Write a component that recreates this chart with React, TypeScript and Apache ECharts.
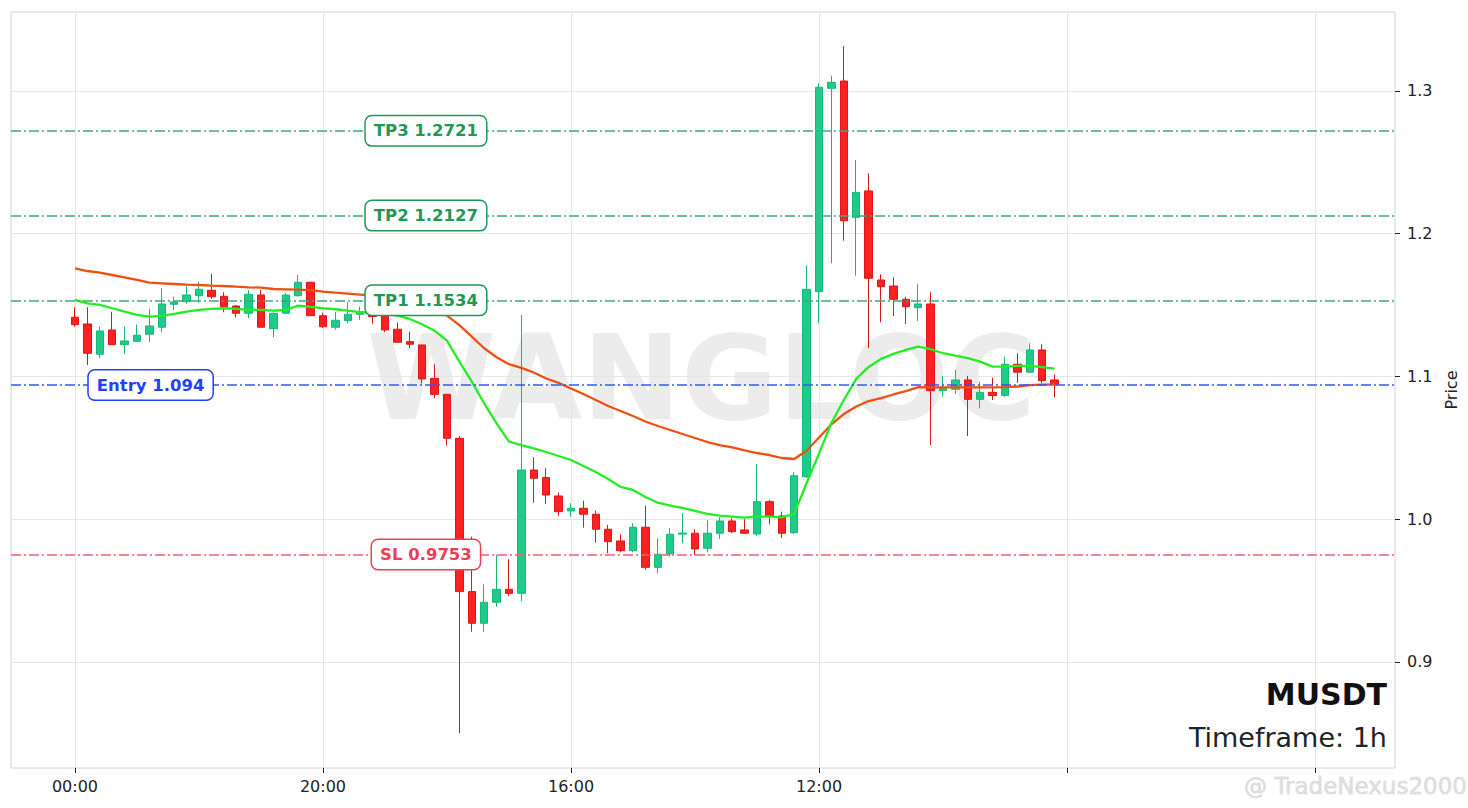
import React, { useEffect, useRef } from 'react';
import * as echarts from 'echarts';

// ---- data ----
const OPEN = [
  1.1415, 1.1368, 1.1156, 1.1326, 1.1223, 1.1247, 1.1296, 1.1345, 1.1506, 1.1524,
  1.1566, 1.1604, 1.1562, 1.1494, 1.1443, 1.1571, 1.1335, 1.1443, 1.1566, 1.1660,
  1.1426, 1.1345, 1.1391, 1.1436, 1.1480, 1.1426, 1.1331, 1.1244, 1.1221, 1.0987,
  1.0875, 1.0567, 0.9493, 0.9271, 0.9418, 0.9509, 0.9481, 1.0345, 1.0292, 1.0163,
  1.0058, 1.0077, 1.0035, 0.9930, 0.9848, 0.9780, 0.9944, 0.9663, 0.9757, 0.9896,
  0.9902, 0.9797, 0.9902, 0.9988, 0.9925, 0.9897, 1.0123, 1.0023, 0.9906, 1.0298,
  1.1594, 1.3019, 1.3070, 1.2115, 1.2300, 1.1676, 1.1634, 1.1541, 1.1482, 1.1508,
  1.0901, 1.0910, 1.0976, 1.0840, 1.0889, 1.0866, 1.1086, 1.1030, 1.1186, 1.0976,
];
const CLOSE = [
  1.1363, 1.1163, 1.1319, 1.1223, 1.1249, 1.1289, 1.1354, 1.1508, 1.1522, 1.1571,
  1.1611, 1.1559, 1.1489, 1.1443, 1.1576, 1.1345, 1.1443, 1.1571, 1.1660, 1.1426,
  1.1349, 1.1394, 1.1436, 1.1454, 1.1420, 1.1326, 1.1240, 1.1226, 1.0983, 1.0875,
  1.0567, 0.9493, 0.9271, 0.9418, 0.9509, 0.9481, 1.0345, 1.0287, 1.0170, 1.0053,
  1.0077, 1.0035, 0.9930, 0.9843, 0.9780, 0.9944, 0.9663, 0.9755, 0.9895, 0.9903,
  0.9792, 0.9902, 0.9988, 0.9913, 0.9902, 1.0123, 1.0025, 0.9902, 1.0305, 1.1611,
  1.3026, 1.3061, 1.2091, 1.2290, 1.1688, 1.1629, 1.1541, 1.1489, 1.1508, 1.0901,
  1.0917, 1.0976, 1.0840, 1.0889, 1.0866, 1.1086, 1.1030, 1.1186, 1.0971, 1.0945,
];
const LOW = [
  1.1349, 1.1081, 1.1128, 1.1222, 1.1158, 1.1242, 1.1242, 1.1310, 1.1466, 1.1508,
  1.1517, 1.1543, 1.1450, 1.1415, 1.1408, 1.1345, 1.1275, 1.1443, 1.1559, 1.1426,
  1.1338, 1.1328, 1.1373, 1.1396, 1.1370, 1.1310, 1.1240, 1.1198, 1.0952, 1.0847,
  1.0515, 0.8501, 0.9212, 0.9212, 0.9387, 0.9462, 0.9427, 1.0116, 1.0107, 1.0025,
  1.0018, 0.9941, 0.9836, 0.9762, 0.9769, 0.9769, 0.9645, 0.9621, 0.9738, 0.9832,
  0.9750, 0.9769, 0.9862, 0.9902, 0.9897, 0.9883, 0.9965, 0.9867, 0.9895, 1.0290,
  1.1373, 1.1793, 1.1951, 1.1706, 1.1200, 1.1380, 1.1424, 1.1368, 1.1389, 1.0520,
  1.0859, 1.0877, 1.0583, 1.0777, 1.0835, 1.0859, 1.0957, 1.1023, 1.0952, 1.0854,
];
const HIGH = [
  1.1485, 1.1485, 1.1349, 1.1454, 1.1349, 1.1363, 1.1475, 1.1618, 1.1559, 1.1634,
  1.1664, 1.1718, 1.1590, 1.1501, 1.1606, 1.1606, 1.1447, 1.1583, 1.1711, 1.1664,
  1.1447, 1.1454, 1.1520, 1.1489, 1.1520, 1.1454, 1.1377, 1.1314, 1.1221, 1.1086,
  1.0875, 1.0583, 0.9878, 0.9544, 0.9750, 0.9720, 1.1431, 1.0434, 1.0357, 1.0186,
  1.0112, 1.0130, 1.0060, 0.9960, 0.9895, 0.9972, 1.0095, 0.9867, 0.9937, 1.0042,
  0.9930, 0.9995, 1.0014, 1.0007, 1.0000, 1.0385, 1.0135, 1.0053, 1.0329, 1.1779,
  1.3054, 1.3107, 1.3315, 1.2517, 1.2423, 1.1716, 1.1695, 1.1559, 1.1646, 1.1590,
  1.1004, 1.1046, 1.1004, 1.0964, 1.0992, 1.1139, 1.1163, 1.1233, 1.1226, 1.1015,
];
const EMA_FAST = [
  1.1536, 1.1513, 1.1501, 1.1478, 1.1454, 1.1431, 1.1419, 1.1424, 1.1438, 1.1454,
  1.1466, 1.1473, 1.1478, 1.1473, 1.1466, 1.1466, 1.1461, 1.1466, 1.1496, 1.1487,
  1.1478, 1.1471, 1.1461, 1.1450, 1.1448, 1.1438, 1.1426, 1.1403, 1.1366, 1.1321,
  1.1251, 1.1104, 1.0964, 1.0812, 1.0672, 1.0543, 1.0520, 1.0497, 1.0471, 1.0443,
  1.0415, 1.0373, 1.0331, 1.0282, 1.0226, 1.0205, 1.0156, 1.0116, 1.0096, 1.0079,
  1.0058, 1.0037, 1.0026, 1.0019, 1.0011, 1.0018, 1.0018, 1.0013, 1.0037, 1.0254,
  1.0460, 1.0674, 1.0835, 1.0983, 1.1067, 1.1123, 1.1158, 1.1186, 1.1209, 1.1191,
  1.1163, 1.1146, 1.1128, 1.1104, 1.1069, 1.1069, 1.1074, 1.1074, 1.1065, 1.1055,
];
const EMA_SLOW = [
  1.1758, 1.1739, 1.1727, 1.1711, 1.1695, 1.1676, 1.1657, 1.1653, 1.1648, 1.1643,
  1.1641, 1.1636, 1.1634, 1.1629, 1.1625, 1.1622, 1.1613, 1.1611, 1.1608, 1.1606,
  1.1594, 1.1587, 1.1581, 1.1574, 1.1566, 1.1560, 1.1550, 1.1536, 1.1515, 1.1473,
  1.1427, 1.1360, 1.1279, 1.1198, 1.1135, 1.1086, 1.1060, 1.1028, 1.0986, 1.0955,
  1.0916, 1.0877, 1.0835, 1.0793, 1.0758, 1.0723, 1.0685, 1.0653, 1.0625, 1.0597,
  1.0569, 1.0541, 1.0520, 1.0503, 1.0482, 1.0464, 1.0450, 1.0429, 1.0422, 1.0480,
  1.0573, 1.0664, 1.0737, 1.0790, 1.0828, 1.0849, 1.0874, 1.0898, 1.0926, 1.0924,
  1.0924, 1.0924, 1.0924, 1.0924, 1.0924, 1.0926, 1.0930, 1.0940, 1.0943, 1.0945,
];
const LEVEL_VALUES = [1.2721, 1.2127, 1.1534, 1.094, 0.9753];
const LEVEL_TEXTS = ['TP3 1.2721', 'TP2 1.2127', 'TP1 1.1534', 'Entry 1.094', 'SL 0.9753'];
const LEVEL_KINDS = ['tp', 'tp', 'tp', 'entry', 'sl'];
const X_TICKS = [0, 20, 40, 60, 80, 100];
const X_TICK_LABELS = ['00:00', '20:00', '16:00', '12:00', '', ''];
const Y_TICKS = [0.9, 1.0, 1.1, 1.2, 1.3];
const SYMBOL = 'MUSDT';
const TIMEFRAME = 'Timeframe: 1h';
const WATERMARK = 'WANGLOC';

const FONT = '"DejaVu Sans", "Noto Sans", sans-serif';

const KIND_STYLE: Record<string, { line: string; text: string; labelX: number }> = {
  tp: { line: '#3aa978', text: '#1f9955', labelX: 28.3 },
  entry: { line: '#3355ff', text: '#2340ff', labelX: 6.1 },
  sl: { line: '#f0606e', text: '#ee3e56', labelX: 28.3 },
};

export default function App() {
  const ref = useRef<HTMLDivElement>(null);

  useEffect(() => {
    document.body.style.margin = '0';
    if (!ref.current) return;
    const chart = echarts.init(ref.current, undefined, { renderer: 'svg' });

    const candles = OPEN.map((o, i) => [i, o, CLOSE[i], LOW[i], HIGH[i]]);
    const fast = EMA_FAST.map((v, i) => [i, v]);
    const slow = EMA_SLOW.map((v, i) => [i, v]);

    const markData = LEVEL_VALUES.map((v, i) => ({
      yAxis: v,
      lineStyle: {
        color: KIND_STYLE[LEVEL_KINDS[i]].line,
        type: [10, 3, 2, 3],
        width: 1.5,
      },
    }));

    const labelData = LEVEL_VALUES.map((v, i) => {
      const st = KIND_STYLE[LEVEL_KINDS[i]];
      return {
        value: [st.labelX, v],
        label: {
          show: true,
          position: 'inside',
          formatter: LEVEL_TEXTS[i],
          color: st.text,
          opacity: 1,
          textBorderWidth: 0,
          textBorderColor: 'transparent',
          borderColor: st.text,
          borderWidth: 1.5,
          borderRadius: 6,
          backgroundColor: '#ffffff',
          padding: [7, 8, 5, 8],
          fontSize: 16.5,
          fontWeight: 'bold',
          fontFamily: FONT,
        },
      };
    });

    chart.setOption({
      animation: false,
      backgroundColor: '#ffffff',
      grid: {
        left: 11,
        right: 73,
        top: 12,
        bottom: 40,
        show: true,
        borderColor: '#d2d2d2',
        borderWidth: 1,
        backgroundColor: 'transparent',
      },
      xAxis: {
        type: 'value',
        min: -5.16,
        max: 106.45,
        axisLine: { show: false, onZero: false },
        axisTick: {
          show: true,
          customValues: X_TICKS,
          length: 5,
          lineStyle: { color: '#222', width: 1 },
        },
        axisLabel: {
          customValues: X_TICKS.slice(0, 4),
          formatter: (v: number) => X_TICK_LABELS[X_TICKS.indexOf(Math.round(v))] || '',
          color: '#222',
          fontSize: 16,
          fontFamily: FONT,
          margin: 10,
        },
        splitLine: { show: true, lineStyle: { color: '#e6e6e6', width: 1 } },
      },
      yAxis: {
        type: 'value',
        position: 'right',
        min: 0.82574,
        max: 1.35534,
        name: 'Price',
        nameLocation: 'middle',
        nameRotate: 90,
        nameGap: 42,
        nameTextStyle: { color: '#222', fontSize: 16, fontFamily: FONT },
        axisLine: { show: false, onZero: false },
        axisTick: {
          show: true,
          customValues: Y_TICKS,
          length: 5,
          lineStyle: { color: '#222', width: 1 },
        },
        axisLabel: {
          customValues: Y_TICKS,
          formatter: (v: number) => v.toFixed(1),
          color: '#222',
          fontSize: 16,
          fontFamily: FONT,
          margin: 12,
        },
        splitLine: { show: true, lineStyle: { color: '#e6e6e6', width: 1 } },
      },
      graphic: [
        {
          type: 'text',
          z: 0,
          x: 701,
          y: 378,
          silent: true,
          style: {
            text: WATERMARK,
            fill: 'rgba(0,0,0,0.075)',
            font: `bold 118px ${FONT}`,
            align: 'center',
            verticalAlign: 'middle',
          },
        },
        {
          type: 'text',
          z: 10,
          x: 1387,
          y: 694,
          style: {
            text: SYMBOL,
            fill: '#111',
            font: `bold 30px ${FONT}`,
            align: 'right',
            verticalAlign: 'middle',
          },
        },
        {
          type: 'text',
          z: 10,
          x: 1387,
          y: 737,
          style: {
            text: TIMEFRAME,
            fill: '#222',
            font: `27px ${FONT}`,
            align: 'right',
            verticalAlign: 'middle',
          },
        },
        {
          type: 'text',
          z: 10,
          x: 1244,
          y: 786,
          style: {
            text: '@ TradeNexus2000',
            fill: '#dedede',
            stroke: '#cccccc',
            lineWidth: 0.5,
            font: `23px ${FONT}`,
            align: 'left',
            verticalAlign: 'middle',
          },
        },
      ],
      series: [
        {
          type: 'candlestick',
          data: candles,
          encode: { x: 0, y: [1, 2, 3, 4] },
          barWidth: 8,
          itemStyle: {
            color: '#1ecb88',
            color0: '#ff2121',
            borderColor: '#16b878',
            borderColor0: '#dd1717',
            borderWidth: 1,
          },
          z: 2,
        },
        {
          type: 'line',
          data: slow,
          showSymbol: false,
          symbol: 'none',
          lineStyle: { color: '#f0500f', width: 2.3 },
          z: 3,
        },
        {
          type: 'line',
          data: fast,
          showSymbol: false,
          symbol: 'none',
          lineStyle: { color: '#22ee22', width: 2.3 },
          z: 3,
          markLine: {
            silent: true,
            precision: 4,
            symbol: ['none', 'none'],
            label: { show: false },
            data: markData,
          },
        },
        {
          type: 'scatter',
          data: labelData,
          symbolSize: 1,
          itemStyle: { color: '#ffffff', opacity: 1 },
          emphasis: { disabled: true },
          z: 5,
        },
      ],
    });

    return () => chart.dispose();
  }, []);

  return <div ref={ref} style={{ width: 1468, height: 808 }} />;
}
